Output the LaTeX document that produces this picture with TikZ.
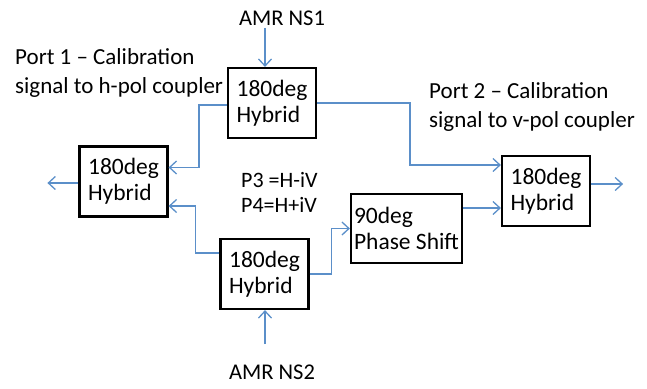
\documentclass[tikz,border=0pt]{standalone}
\usepackage{fontspec}
\setmainfont{Carlito}
\usetikzlibrary{arrows.meta}
\definecolor{linkblue}{RGB}{91,143,201}
\tikzset{
  blk/.style={draw=black, line width=2.2pt, minimum width=88pt, minimum height=70pt, align=left, inner sep=2pt, font=\fontsize{23.5}{26}\selectfont},
  lbl/.style={align=left, inner sep=0pt, font=\fontsize{23}{29}\selectfont},
  amr/.style={align=left, inner sep=0pt, font=\fontsize{22.5}{28}\selectfont},
  eqn/.style={align=left, inner sep=0pt, font=\fontsize{22}{25}\selectfont},
  arr/.style={draw=linkblue, line width=1.3pt, -{Straight Barb[length=7pt,width=13pt,line width=1.3pt]}}
}
\begin{document}
\begin{tikzpicture}[x=1pt,y=-1pt]
\useasboundingbox (0,0) rectangle (647,388);
\node[blk] (h1) at (272,103) {180deg\\Hybrid};
\node[blk, minimum height=70pt] (h2) at (123.5,181.5) {180deg\\Hybrid};
\node[blk] (h4) at (546,191) {180deg\\Hybrid};
\node[blk, minimum width=111pt, minimum height=69pt] (ps) at (406.5,228.5) {90deg\\Phase Shift};
\node[blk] (h3) at (264.5,274) {180deg\\Hybrid};
\node[amr, anchor=center] (ns1) at (282,18) {AMR NS1};
\node[amr, anchor=center] (ns2) at (272,372) {AMR NS2};
\node[lbl, anchor=west] (p1) at (15,72.5) {Port 1 – Calibration\\signal to h-pol coupler};
\node[lbl, anchor=west] (p2) at (429,106.5) {Port 2 – Calibration\\signal to v-pol coupler};
\node[eqn, anchor=west] (eq) at (241,192.5) {P3 =H-iV\\P4=H+iV};
\coordinate (a1) at (265,28);
\coordinate (a2) at (265,344);
\draw[arr] (a1) -- (a1 |- h1.north);
\draw[arr] (a2) -- (a2 |- h3.south);
\draw[arr] ([yshift=-2pt]h1.west) -- ++(-28,0) |- ([yshift=14pt]h2.east);
\draw[arr] (h1.east) -- ++(93,0) |- ([yshift=26pt]h4.west);
\draw[arr] ([yshift=-1.5pt]h2.west) -- ++(-31,0);
\draw[arr] ([yshift=21pt]h3.west) -- ++(-24,0) |- ([yshift=-24.5pt]h2.east);
\draw[arr] (h3.east) -- ++(22,0) |- (ps.west);
\draw[arr] ([yshift=20.5pt]ps.east) -- ([yshift=20.5pt]ps.east -| h4.west);
\draw[arr] ([yshift=7pt]h4.east) -- ++(32,0);
\end{tikzpicture}
\end{document}
